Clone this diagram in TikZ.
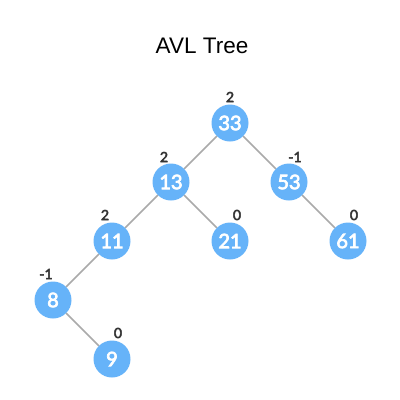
\documentclass[tikz,border=0pt]{standalone}
\usepackage{fontspec}
\setmainfont{Liberation Sans}
\newfontfamily\latob{Lato}[FakeBold=3.5]
\definecolor{nodeblue}{HTML}{66B3F9}
\definecolor{edgegrey}{HTML}{AAAAAA}
\definecolor{labgrey}{HTML}{333333}
\begin{document}
\begin{tikzpicture}[x=1pt,y=-1pt,
  avl/.style={circle,fill=nodeblue,minimum size=37pt,inner sep=0pt,text=white,font=\latob\fontsize{20}{20}\selectfont},
  bal/.style={text=labgrey,font=\latob\fontsize{14}{14}\selectfont,inner sep=0pt},
  edge/.style={draw=edgegrey,line width=1.5pt}]
\useasboundingbox (0,0) rectangle (400,400);
\fill[white] (0,0) rectangle (400,400);
\node[anchor=base,font=\fontsize{22.5}{22.5}\selectfont] (title) at (202,53) {AVL Tree};
\node[avl] (n33) at (230,123) {33};
\node[avl] (n13) at (171,182) {13};
\node[avl] (n53) at (289,182) {53};
\node[avl] (n11) at (112,241) {11};
\node[avl] (n21) at (230,241) {21};
\node[avl] (n61) at (348,241) {61};
\node[avl] (n8) at (53,300) {8};
\node[avl] (n9) at (112,359) {9};
\node[bal] (b33) at (230,97) {2};
\node[bal] (b13) at (164,157) {2};
\node[bal] (b53) at (295,157) {-1};
\node[bal] (b11) at (105,215) {2};
\node[bal] (b21) at (237,215) {0};
\node[bal] (b61) at (354,215) {0};
\node[bal] (b8) at (46,274) {-1};
\node[bal] (b9) at (118,333) {0};
\path[edge] (n33) -- (n13);
\path[edge] (n33) -- (n53);
\path[edge] (n13) -- (n11);
\path[edge] (n13) -- (n21);
\path[edge] (n53) -- (n61);
\path[edge] (n11) -- (n8);
\path[edge] (n8) -- (n9);
\end{tikzpicture}
\end{document}
